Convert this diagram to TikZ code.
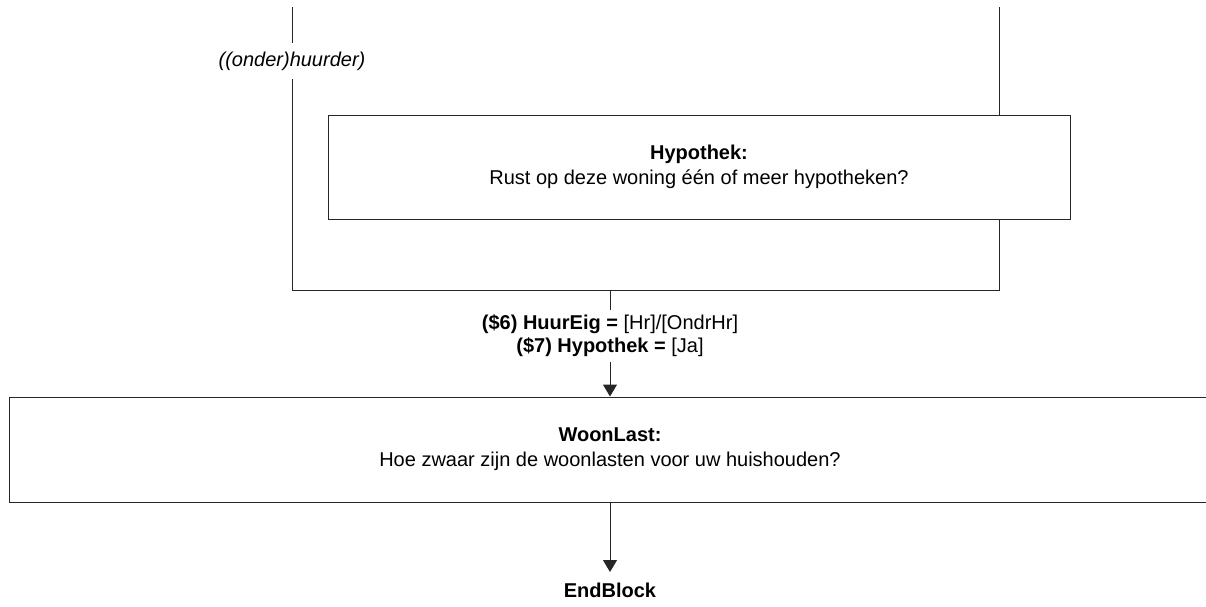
\documentclass[tikz,border=0pt]{standalone}
\usepackage{fontspec}
\setmainfont{Liberation Sans}
\usetikzlibrary{arrows.meta}

\begin{document}
\begin{tikzpicture}[
    x=0.5pt, y=-0.5pt,
    % Define the style for the question boxes
    qBox/.style={
        rectangle,
        draw=black!85,
        line width=0.5pt,
        align=center,
        inner sep=0pt,
        font=\fontsize{10}{12.5}\selectfont
    },
    % Define the style for the route labels
    routeLabel/.style={
        align=center,
        inner sep=0pt,
        font=\fontsize{10}{11.5}\selectfont
    },
    % Define the style for the connections
    flowLine/.style={
        draw=black!85,
        line width=0.5pt
    },
    flowArrow/.style={
        flowLine,
        -{Triangle[width=7pt,length=6pt]}
    }
]

    % --- PAGE FRAME ---
    \useasboundingbox (0,0) rectangle (1206,606);

    % --- NODES ---
    % Question boxes
    \node[qBox, minimum width=371pt, minimum height=52pt] (Hyp) at (699,167)
        {\textbf{Hypothek:}\\Rust op deze woning één of meer hypotheken?};
    \node[qBox, minimum width=601pt, minimum height=52.5pt] (Woon) at (610,449.5)
        {\textbf{WoonLast:}\\Hoe zwaar zijn de woonlasten voor uw huishouden?};

    % Route labels
    \node[routeLabel, minimum height=18pt] (Onder) at (292,61) {\textit{((onder)huurder)}};
    \node[routeLabel, minimum height=26pt] (Cond) at (610,336)
        {\textbf{(\$6) HuurEig =} [Hr]/[OndrHr]\\\textbf{(\$7) Hypothek =} [Ja]};
    \node[routeLabel, anchor=north, inner ysep=5.5pt] (End) at (610,572) {\textbf{EndBlock}};

    % Free ends and corners
    \coordinate (LTop) at (292,7);
    \coordinate (RTop) at (999,7);
    \coordinate (LCorner) at (292,290);
    \coordinate (RCorner) at (999,290);
    \coordinate (Merge) at (610,290);

    % --- EDGES ---
    % Left branch (huurder)
    \draw[flowLine] (LTop) -- (Onder);
    \draw[flowLine] (Onder) -- (LCorner) -- (RCorner) -- (RCorner |- Hyp.south);

    % Right branch through Hypothek
    \draw[flowLine] (RTop) -- (RTop |- Hyp.north);

    % Merged route down
    \draw[flowLine] (Merge) -- (Cond);
    \draw[flowArrow] (Cond) -- (Woon);
    \draw[flowArrow] (Woon) -- (End);

\end{tikzpicture}
\end{document}
